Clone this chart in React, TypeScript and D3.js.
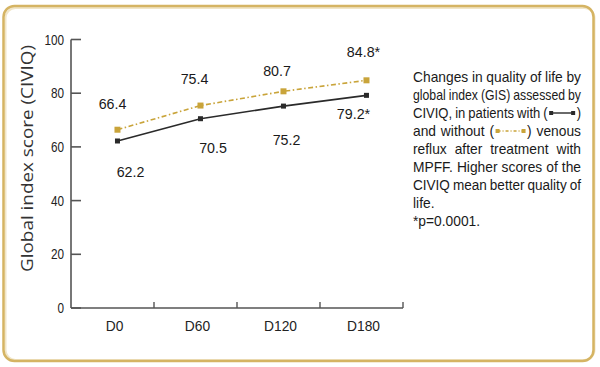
import React, { useLayoutEffect, useRef, useState } from 'react';
import * as d3 from 'd3';

const categories = ['D0', 'D60', 'D120', 'D180'];
const withReflux = [62.2, 70.5, 75.2, 79.2];
const withoutReflux = [66.4, 75.4, 80.7, 84.8];
const withLabels = ['62.2', '70.5', '75.2', '79.2*'];
const withoutLabels = ['66.4', '75.4', '80.7', '84.8*'];
const yTicks = [0, 20, 40, 60, 80, 100];
const yTitle = 'Global index score (CIVIQ)';
const captionLines = [
  'Changes in quality of life by',
  'global index (GIS) assessed by',
  'CIVIQ, in patients with {with}',
  'and without {without} venous',
  'reflux after treatment with',
  'MPFF. Higher scores of the',
  'CIVIQ mean better quality of',
  'life.',
  '*p=0.0001.',
];

// label placement offsets relative to their marker (layout only)
const withLabelOffsets: [number, number][] = [[13, 36], [12.5, 34], [3, 39], [-13, 24]];
const withoutLabelOffsets: [number, number][] = [[-5, -21], [-6, -21.5], [-6.5, -15], [-3, -23]];

const W = 600;
const H = 367;
const SANS = "'Liberation Sans', Arial, sans-serif";
const GOLD = '#c9a43a';
const DARK = '#2a2a2a';
const AXIS = '#555';
const SX = 0.92; // horizontal squeeze to mimic a condensed face

const allWords = Array.from(
  new Set(
    captionLines
      .flatMap((l) => l.split(' '))
      .filter((w) => !/^\{\w+\}$/.test(w))
      .concat(['(', ')'])
  )
);

export default function App() {
  const measRef = useRef<SVGGElement>(null);
  const [widths, setWidths] = useState<Record<string, number> | null>(null);

  const capFontSize = 15;

  useLayoutEffect(() => {
    if (!measRef.current) return;
    const out: Record<string, number> = {};
    const nodes = measRef.current.querySelectorAll('text');
    nodes.forEach((n) => {
      const w = n.getAttribute('data-w') as string;
      out[w] = (n as SVGTextElement).getComputedTextLength() * SX;
    });
    setWidths(out);
  }, []);

  const x = d3.scaleBand<string>().domain(categories).range([71, 403]).paddingInner(0).paddingOuter(0);
  const y = d3.scaleLinear().domain([0, 100]).range([308, 39.5]);
  const px = (c: string) => (x(c) as number) + x.bandwidth() * 0.56;

  const line = d3
    .line<number>()
    .x((_, i) => px(categories[i]))
    .y((d) => y(d));

  const capLeft = 413;
  const capRight = 581;
  const capTop = 81.5;
  const capLH = 18;
  const minGap = 3;

  const glyphW: Record<string, number> = { with: 26, without: 30 };

  const renderGlyph = (kind: string, gx: number, gy: number) => {
    const w = glyphW[kind];
    const col = kind === 'with' ? DARK : GOLD;
    return (
      <g key={`g-${kind}`}>
        <line
          x1={gx + 2}
          x2={gx + w - 2}
          y1={gy}
          y2={gy}
          stroke={col}
          strokeWidth={1.4}
          strokeDasharray={kind === 'with' ? undefined : '3,2,1,2'}
        />
        <rect x={gx} y={gy - 2} width={4} height={4} fill={col} />
        <rect x={gx + w - 4} y={gy - 2} width={4} height={4} fill={col} />
      </g>
    );
  };

  const CText = (props: { x: number; y: number; s: number; children: React.ReactNode; k: string }) => (
    <text
      key={props.k}
      transform={`translate(${props.x},${props.y}) scale(${SX * props.s},1)`}
      fontFamily={SANS}
      fontSize={capFontSize}
      fill="#1a1a1a"
    >
      {props.children}
    </text>
  );

  const captionEls: React.ReactNode[] = [];
  if (widths) {
    captionLines.forEach((ln, li) => {
      const by = capTop + li * capLH;
      const words = ln.split(' ');
      const justify = li < 7;
      const rawTotal = words.reduce((a, w) => {
        const m = w.match(/^\{(\w+)\}$/);
        return a + (m ? widths['('] + widths[')'] : widths[w]);
      }, 0);
      const fixed = words.reduce((a, w) => {
        const m = w.match(/^\{(\w+)\}$/);
        return a + (m ? glyphW[m[1]] + 3 : 0);
      }, 0);
      const avail = capRight - capLeft - fixed - minGap * (words.length - 1);
      const s = Math.min(1, avail / rawTotal);
      const parenW = widths['('] * s;
      const parenRW = widths[')'] * s;
      const ws = words.map((w) => {
        const m = w.match(/^\{(\w+)\}$/);
        if (m) return parenW + 1.5 + glyphW[m[1]] + 1.5 + parenRW;
        return widths[w] * s;
      });
      const total = ws.reduce((a, b) => a + b, 0);
      const gap = justify && words.length > 1 ? (capRight - capLeft - total) / (words.length - 1) : 4;
      let cx = capLeft;
      words.forEach((w, wi) => {
        const m = w.match(/^\{(\w+)\}$/);
        if (m) {
          const kind = m[1];
          captionEls.push(CText({ x: cx, y: by, s, children: '(', k: `c${li}-${wi}-a` }));
          const gx = cx + parenW + 1.5;
          captionEls.push(<g key={`c${li}-${wi}-g`}>{renderGlyph(kind, gx, by - 4.5)}</g>);
          captionEls.push(CText({ x: gx + glyphW[kind] + 1.5, y: by, s, children: ')', k: `c${li}-${wi}-b` }));
        } else {
          captionEls.push(CText({ x: cx, y: by, s, children: w, k: `c${li}-${wi}` }));
        }
        cx += ws[wi] + gap;
      });
    });
  }

  const boundaries = categories.map((c) => (x(c) as number) + x.bandwidth());

  return (
    <svg
      width={W}
      height={H}
      viewBox={`0 0 ${W} ${H}`}
      style={{ position: 'absolute', left: 0, top: 0, background: '#fff' }}
    >
      <rect x={0} y={0} width={W} height={H} fill="#fff" />
      <g ref={measRef} visibility="hidden">
        {allWords.map((w) => (
          <text key={`m-${w}`} data-w={w} x={0} y={-50} fontFamily={SANS} fontSize={capFontSize}>
            {w}
          </text>
        ))}
      </g>
      <rect x={5.5} y={8} width={589} height={352} rx={10} fill="none" stroke="#f1e6c8" strokeWidth={2} />
      <rect x={3.5} y={6} width={590} height={355} rx={11} fill="none" stroke="#d5b463" strokeWidth={2.5} />

      {/* y axis title */}
      <text
        transform={`translate(33, 158.5) rotate(-90)`}
        textAnchor="middle"
        fontFamily="'Open Sans', 'DejaVu Sans', sans-serif"
        fontSize={15.5}
        fill="#333"
        textLength={227}
        lengthAdjust="spacingAndGlyphs"
      >
        {yTitle}
      </text>

      {/* y axis */}
      <line x1={71} x2={71} y1={y(100)} y2={y(0)} stroke={AXIS} strokeWidth={1.6} />
      {yTicks.map((t) => (
        <g key={`yt${t}`}>
          <line x1={71} x2={81} y1={y(t)} y2={y(t)} stroke={AXIS} strokeWidth={1.6} />
          <text
            transform={`translate(64,${y(t) + 5}) scale(0.84,1)`}
            textAnchor="end"
            fontFamily={SANS}
            fontSize={14}
            fill="#222"
          >
            {t}
          </text>
        </g>
      ))}

      {/* x axis */}
      <line x1={71} x2={403} y1={y(0)} y2={y(0)} stroke={AXIS} strokeWidth={1.6} />
      {boundaries.map((b, i) => (
        <line key={`xt${i}`} x1={b} x2={b} y1={y(0)} y2={y(0) - 6} stroke={AXIS} strokeWidth={1.4} />
      ))}
      {categories.map((c) => (
        <text
          key={`xl${c}`}
          transform={`translate(${(x(c) as number) + x.bandwidth() / 2 + 2},331) scale(0.92,1)`}
          textAnchor="middle"
          fontFamily={SANS}
          fontSize={15}
          fill="#222"
        >
          {c}
        </text>
      ))}

      {/* lines */}
      <path d={line(withReflux) || ''} fill="none" stroke={DARK} strokeWidth={1.6} />
      <path d={line(withoutReflux) || ''} fill="none" stroke={GOLD} strokeWidth={1.6} strokeDasharray="5,2.5,1.5,2.5" />
      {withReflux.map((v, i) => (
        <rect key={`wm${i}`} x={px(categories[i]) - 2.5} y={y(v) - 2.5} width={5} height={5} fill={DARK} />
      ))}
      {withoutReflux.map((v, i) => (
        <rect key={`om${i}`} x={px(categories[i]) - 3} y={y(v) - 3} width={6} height={6} fill={GOLD} />
      ))}

      {/* value labels */}
      {withReflux.map((v, i) => (
        <text
          key={`wl${i}`}
          transform={`translate(${px(categories[i]) + withLabelOffsets[i][0]},${y(v) + withLabelOffsets[i][1]}) scale(0.92,1)`}
          textAnchor="middle"
          fontFamily={SANS}
          fontSize={15.5}
          fill="#1a1a1a"
        >
          {withLabels[i]}
        </text>
      ))}
      {withoutReflux.map((v, i) => (
        <text
          key={`ol${i}`}
          transform={`translate(${px(categories[i]) + withoutLabelOffsets[i][0]},${y(v) + withoutLabelOffsets[i][1]}) scale(0.92,1)`}
          textAnchor="middle"
          fontFamily={SANS}
          fontSize={15.5}
          fill="#1a1a1a"
        >
          {withoutLabels[i]}
        </text>
      ))}

      {captionEls}
    </svg>
  );
}
